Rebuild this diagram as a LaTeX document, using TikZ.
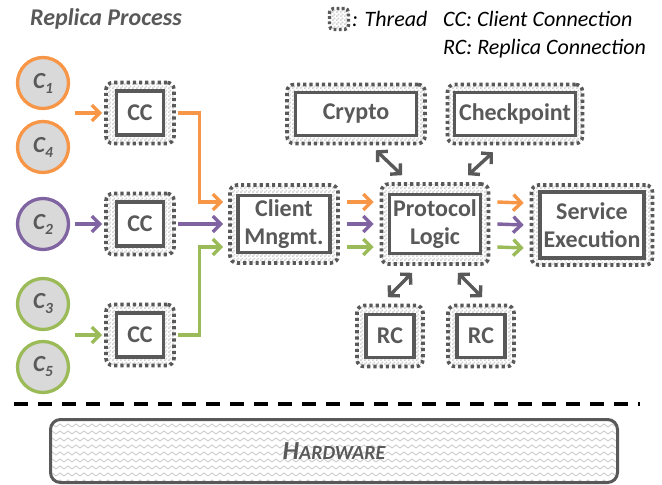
\documentclass[tikz,border=0pt]{standalone}
\usepackage{fontspec}
\setmainfont{Carlito}
\usetikzlibrary{arrows.meta,patterns,calc}

\definecolor{dg}{HTML}{595959}
\definecolor{cfill}{HTML}{D9D9D9}
\definecolor{oc}{HTML}{F79646}
\definecolor{pc}{HTML}{8064A2}
\definecolor{gc}{HTML}{9BBB59}

\pgfdeclarepatternformonly{finechecker}{\pgfpointorigin}{\pgfpoint{4pt}{4pt}}{\pgfpoint{4pt}{4pt}}{%
  \pgfpathrectangle{\pgfpointorigin}{\pgfpoint{2pt}{2pt}}%
  \pgfpathrectangle{\pgfpoint{2pt}{2pt}}{\pgfpoint{2pt}{2pt}}%
  \pgfusepath{fill}}
\pgfdeclarepatternformonly{zigzagp}{\pgfpoint{-1pt}{-1pt}}{\pgfpoint{9pt}{8pt}}{\pgfpoint{8pt}{7pt}}{%
  \pgfsetlinewidth{0.9pt}%
  \pgfpathmoveto{\pgfpoint{0pt}{2pt}}%
  \pgfpathlineto{\pgfpoint{4pt}{5pt}}%
  \pgfpathlineto{\pgfpoint{8pt}{2pt}}%
  \pgfusepath{stroke}}

\tikzset{
  threadouter/.style={draw=dg, line width=3.6pt, dash pattern=on 3.2pt off 3pt,
    rounded corners=7pt, preaction={fill=white}, pattern=finechecker,
    pattern color=black!18, inner sep=0pt},
  innerbox/.style={draw=dg, line width=3.3pt, fill=white, text=dg, align=center,
    inner sep=0pt, font=\fontsize{24}{28}\selectfont\bfseries},
  client/.style={circle, draw=#1, line width=3.3pt, fill=cfill, minimum size=51pt,
    inner sep=0pt, text=dg, font=\fontsize{23}{25}\selectfont\bfseries\itshape},
  carrow/.style={draw=#1, line width=3.4pt, -{Straight Barb[length=8pt,width=16pt]}},
  darrow/.style={draw=dg, line width=3.4pt,
    {Straight Barb[length=7pt,width=15pt]}-{Straight Barb[length=7pt,width=15pt]}},
  legend/.style={anchor=base west, inner sep=0pt, text=black,
    font=\fontsize{22}{24}\selectfont\itshape},
  hwbox/.style={draw=dg, line width=3pt, rounded corners=10pt,
    preaction={fill=white}, pattern=zigzagp, pattern color=black!20,
    text=dg, inner sep=0pt},
}

\newcommand{\csub}[2]{C\raisebox{-5pt}{\fontsize{15.5}{15.5}\selectfont #2}}

\begin{document}
\begin{tikzpicture}[x=1pt, y=-1pt]
\useasboundingbox (0,0) rectangle (662,485);

% title and legend
\node[anchor=base west, inner sep=0pt, text=dg,
  font=\fontsize{24}{26}\selectfont\bfseries\itshape] (title) at (30,25) {Replica Process};
\node[draw=dg, line width=3.4pt, dash pattern=on 2.8pt off 2.4pt, rounded corners=4pt,
  preaction={fill=white}, pattern=finechecker, pattern color=black!18,
  minimum width=19pt, minimum height=21pt, inner sep=0pt] (legicon) at (339,19) {};
\node[legend] (legthread) at (352,26) {: Thread};
\node[legend] (legcc) at (443,26) {CC: Client Connection};
\node[legend] (legrc) at (443,54) {RC: Replica Connection};

% clients
\node[client=oc] (c1) at (43,83) {\csub{C}{1}};
\node[client=oc] (c4) at (43,147) {\csub{C}{4}};
\node[client=pc] (c2) at (43,224) {\csub{C}{2}};
\node[client=gc] (c3) at (43,304) {\csub{C}{3}};
\node[client=gc] (c5) at (43,367) {\csub{C}{5}};

% thread boxes
\node[threadouter, minimum width=68pt, minimum height=61pt] (cc1o) at (140,113) {};
\node[innerbox, minimum width=47pt, minimum height=44pt] (cc1) at (cc1o) {CC};
\node[threadouter, minimum width=68pt, minimum height=61pt] (cc2o) at (140,224) {};
\node[innerbox, minimum width=47pt, minimum height=44pt] (cc2) at (cc2o) {CC};
\node[threadouter, minimum width=68pt, minimum height=61pt] (cc3o) at (140,335) {};
\node[innerbox, minimum width=47pt, minimum height=44pt] (cc3) at (cc3o) {CC};

\node[threadouter, minimum width=108pt, minimum height=78pt] (cmo) at (284,224) {};
\node[innerbox, minimum width=92pt, minimum height=57pt] (cm) at (cmo) {Client\\Mngmt.};

\node[threadouter, minimum width=107pt, minimum height=80pt] (plo) at (435,224) {};
\node[innerbox, minimum width=91pt, minimum height=59pt] (pl) at (plo) {Protocol\\Logic};

\node[threadouter, minimum width=121pt, minimum height=80pt] (seo) at (592,225) {};
\node[innerbox, minimum width=104pt, minimum height=66pt] (se) at (seo) {Service\\Execution};

\node[threadouter, minimum width=138pt, minimum height=59pt] (cro) at (356,114) {};
\node[innerbox, minimum width=121pt, minimum height=43pt] (cr) at (cro) {Crypto};

\node[threadouter, minimum width=135pt, minimum height=59pt] (cko) at (515,114) {};
\node[innerbox, minimum width=121pt, minimum height=43pt] (ck) at (cko) {Checkpoint};

\node[threadouter, minimum width=66pt, minimum height=61pt] (rc1o) at (390,336) {};
\node[innerbox, minimum width=48pt, minimum height=43pt] (rc1) at (rc1o) {RC};
\node[threadouter, minimum width=66pt, minimum height=61pt] (rc2o) at (481,336) {};
\node[innerbox, minimum width=48pt, minimum height=43pt] (rc2) at (rc2o) {RC};

% client -> CC arrows
\draw[carrow=oc] ([xshift=-29pt]cc1o.west) -- ([xshift=-2pt]cc1o.west);
\draw[carrow=pc] ([xshift=-29pt]cc2o.west) -- ([xshift=-2pt]cc2o.west);
\draw[carrow=gc] ([xshift=-29pt]cc3o.west) -- ([xshift=-2pt]cc3o.west);

% CC -> Client Mngmt
\draw[carrow=oc] ([xshift=2pt]cc1o.east) -| ([xshift=-29pt,yshift=22pt]cmo.west)
  -- ([xshift=-5pt,yshift=22pt]cmo.west);
\draw[carrow=pc] ([xshift=2pt]cc2o.east) -- ([xshift=-5pt]cmo.west);
\draw[carrow=gc] ([xshift=2pt]cc3o.east) -| ([xshift=-29pt,yshift=-23pt]cmo.west)
  -- ([xshift=-5pt,yshift=-23pt]cmo.west);

% Client Mngmt -> Protocol Logic
\draw[carrow=oc] ([xshift=7pt,yshift=22pt]cmo.east) -- ([xshift=-6pt,yshift=22pt]plo.west);
\draw[carrow=pc] ([xshift=7pt]cmo.east) -- ([xshift=-6pt]plo.west);
\draw[carrow=gc] ([xshift=7pt,yshift=-23pt]cmo.east) -- ([xshift=-6pt,yshift=-23pt]plo.west);

% Protocol Logic -> Service Execution
\draw[carrow=oc] ([xshift=7pt,yshift=22pt]plo.east) -- ([xshift=-6pt,yshift=22pt]seo.west);
\draw[carrow=pc] ([xshift=7pt]plo.east) -- ([xshift=-6pt]seo.west);
\draw[carrow=gc] ([xshift=7pt,yshift=-23pt]plo.east) -- ([xshift=-6pt,yshift=-23pt]seo.west);

% double arrows
\draw[darrow] ([xshift=20pt,yshift=-5pt]cro.south) -- ([xshift=-33pt,yshift=7pt]plo.north);
\draw[darrow] ([xshift=-22pt,yshift=-7pt]cko.south) -- ([xshift=33pt,yshift=7pt]plo.north);
\draw[darrow] ([xshift=-23pt,yshift=-7pt]plo.south) -- ([xshift=-2pt,yshift=6.5pt]rc1o.north);
\draw[darrow] ([xshift=23pt,yshift=-7pt]plo.south) -- ([xshift=1pt,yshift=6.5pt]rc2o.north);

% separator
\coordinate (sepl) at (14,404);
\coordinate (sepr) at (640,404);
\draw[black, line width=4pt, dash pattern=on 14pt off 10pt] (sepl) -- (sepr);

% hardware
\node[hwbox, minimum width=567pt, minimum height=63pt] (hw) at (334,451)
  {\bfseries\itshape\fontsize{26}{28}\selectfont H\fontsize{20}{22}\selectfont ARDWARE};
\end{tikzpicture}
\end{document}
